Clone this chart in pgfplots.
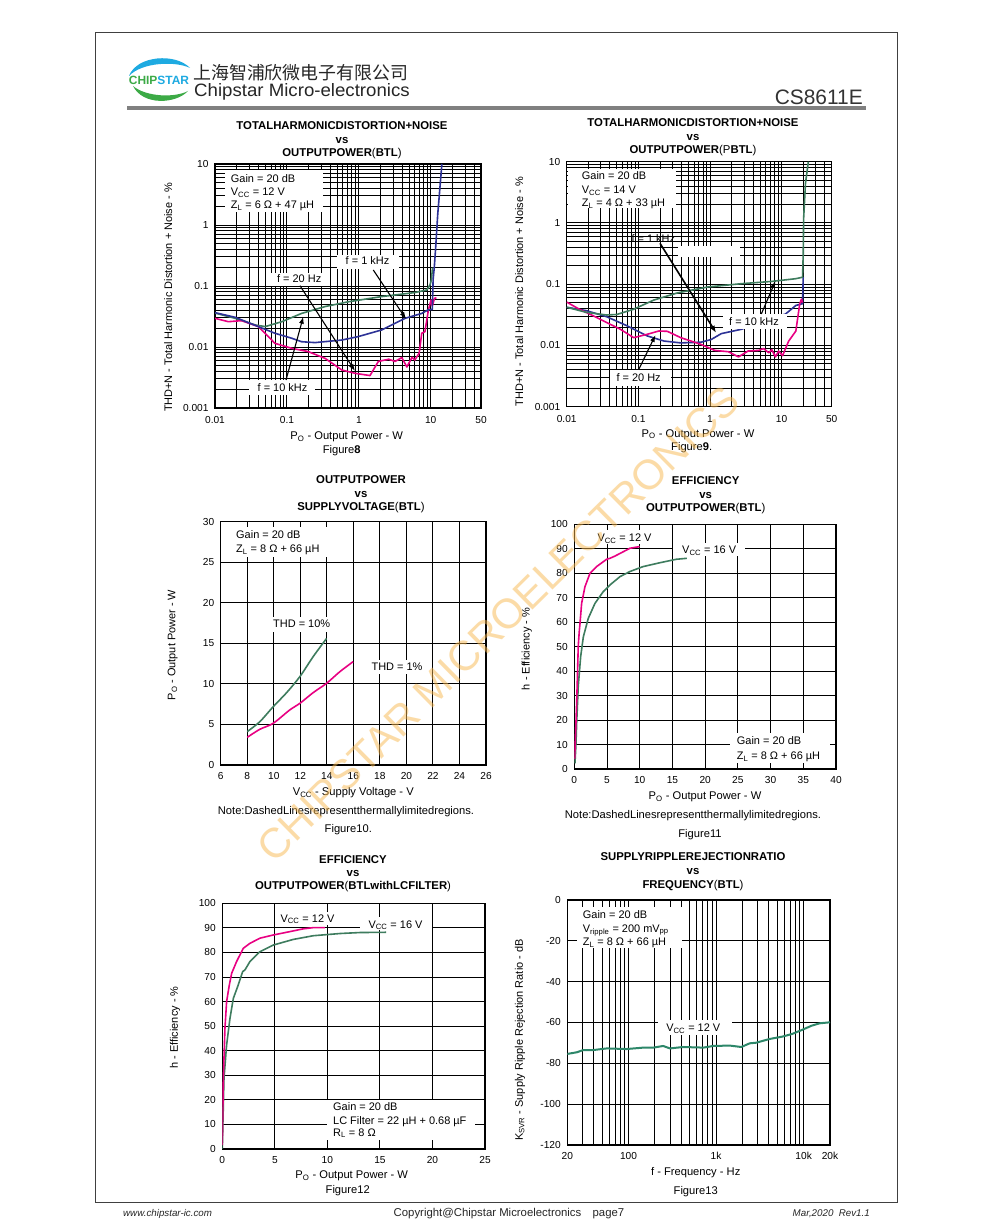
\documentclass[border=0pt]{standalone}
\usepackage{pgfplots}
\pgfplotsset{compat=1.18}
\usepackage{fontspec}
\setmainfont{Liberation Sans}
\newfontfamily\cjk{Noto Sans CJK SC}
\usetikzlibrary{arrows.meta}
\definecolor{cgreen}{RGB}{62,124,94}
\definecolor{cpink}{RGB}{232,0,130}
\definecolor{cblue}{RGB}{45,50,150}
\definecolor{cteal}{RGB}{45,135,105}
\definecolor{logoblue}{RGB}{30,170,225}
\definecolor{logogreen}{RGB}{60,170,70}
\definecolor{wmark}{RGB}{248,185,80}
\newcommand\fs[1]{\fontsize{#1}{#1}\selectfont}
\pgfkeys{/pgf/number format/assume math mode=true}
\pgfplotsset{
 ds/.style={scale only axis, grid=both,
   major grid style={black,line width=0.9bp},
   minor grid style={black,line width=0.8bp},
   major tick length=0pt, minor tick length=0pt,
   axis line style={black,line width=1.1bp},
   tick label style={font=\fs{10.2}},
   xticklabel style={yshift=-4bp},
   yticklabel style={xshift=-3bp},
   every axis plot/.append style={line width=1.6bp, line join=round},
 },
}
\newcommand\ttl[3]{\node[anchor=base, font=\bfseries\fs{11.4}] at (#1,{#2+4.1}) {#3};}
\newcommand\lab[3]{\node[anchor=base, font=\fs{11.2}] at (#1,{#2+4}) {#3};}
\newcommand\ann[3]{\node[anchor=base west, font=\fs{11}, inner sep=0pt] at (#1,{#2+4}) {#3};}
\newcommand\cann[3]{\node[anchor=base, font=\fs{11}, inner sep=0pt] at (#1,{#2+4}) {#3};}
\newcommand\wbox[4]{\fill[white] (#1,#2) rectangle (#3,#4);}
\newcommand\ylab[3]{\node[rotate=90, font=\fs{11}] at (#1,#2) {#3};}
\begin{document}
\begin{tikzpicture}[x=1bp,y=1bp]
\fill[white] (0,0) rectangle (991,1232);
\useasboundingbox (0,0) rectangle (991,1232);

% ---------- Figure 8
\begin{axis}[ds, xmode=log, ymode=log, at={(215bp,824bp)}, anchor=south west, width=266bp, height=244bp,
   xmin=0.01, xmax=50, ymin=0.001, ymax=10,
   xtick={0.01,0.1,1,10,50}, xticklabels={0.01,0.1,1,10,50},
   ytick={0.001,0.01,0.1,1,10}, yticklabels={0.001,0.01,0.1,1,10},
   minor xtick={0.02,0.03,0.04,0.05,0.06,0.07,0.08,0.09,0.2,0.3,0.4,0.5,0.6,0.7,0.8,0.9,2,3,4,5,6,7,8,9,20,30,40},
   minor ytick={0.002,0.003,0.004,0.005,0.006,0.007,0.008,0.009,0.02,0.03,0.04,0.05,0.06,0.07,0.08,0.09,0.2,0.3,0.4,0.5,0.6,0.7,0.8,0.9,2,3,4,5,6,7,8,9},
   xticklabel style={yshift=-1bp}]
\addplot[cgreen] coordinates {(0.01,0.036)(0.019,0.0295)(0.036,0.023)(0.05,0.0216)(0.085,0.026)(0.16,0.0355)(0.34,0.046)(0.71,0.055)(2.07,0.067)(6.0,0.078)(8.8,0.086)(9.8,0.105)(10.2,0.126)(10.6,0.2)};
\addplot[cpink] coordinates {(0.01,0.0295)(0.0153,0.026)(0.0235,0.027)(0.04,0.0216)(0.0496,0.0168)(0.068,0.0115)(0.117,0.0095)(0.198,0.0084)(0.34,0.0065)(0.58,0.0042)(0.89,0.0037)(1.43,0.0034)(1.87,0.0058)(2.6,0.0063)(3.2,0.0058)(3.96,0.0067)(4.66,0.0047)(5.5,0.0068)(6.0,0.0061)(6.9,0.0079)(7.5,0.0168)(8.3,0.0178)(9.3,0.041)(10.1,0.059)(10.5,0.047)(11.3,0.063)(12,0.064)};
\addplot[cblue] coordinates {(0.01,0.0366)(0.019,0.0307)(0.04,0.0216)(0.068,0.0168)(0.117,0.0139)(0.16,0.0122)(0.246,0.0118)(0.58,0.013)(0.98,0.0148)(2.07,0.019)(4.4,0.0295)(7.5,0.0355)(9.3,0.041)(10.5,0.041)(10.8,0.13)(11.2,0.2)(11.7,0.42)(12.5,1.48)(13.4,4.0)(14.3,10)};
\end{axis}

% ---------- Figure 9
\begin{axis}[ds, xmode=log, ymode=log, at={(566.7bp,825.3bp)}, anchor=south west, width=265bp, height=245bp,
   xmin=0.01, xmax=50, ymin=0.001, ymax=10,
   xtick={0.01,0.1,1,10,50}, xticklabels={0.01,0.1,1,10,50},
   ytick={0.001,0.01,0.1,1,10}, yticklabels={0.001,0.01,0.1,1,10},
   minor xtick={0.02,0.03,0.04,0.05,0.06,0.07,0.08,0.09,0.2,0.3,0.4,0.5,0.6,0.7,0.8,0.9,2,3,4,5,6,7,8,9,20,30,40},
   minor ytick={0.002,0.003,0.004,0.005,0.006,0.007,0.008,0.009,0.02,0.03,0.04,0.05,0.06,0.07,0.08,0.09,0.2,0.3,0.4,0.5,0.6,0.7,0.8,0.9,2,3,4,5,6,7,8,9},
   xticklabel style={yshift=-1bp}]
\addplot[cblue] coordinates {(0.01,0.042)(0.0188,0.037)(0.036,0.0295)(0.069,0.021)(0.133,0.0143)(0.228,0.0118)(0.39,0.011)(0.75,0.0113)(1.04,0.0125)(1.44,0.0156)(2.77,0.0184)(6.6,0.027)(11.3,0.0325)(15.8,0.045)(19.6,0.048)(20,0.13)};
\addplot[cpink] coordinates {(0.01,0.051)(0.015,0.039)(0.0233,0.0306)(0.036,0.0237)(0.056,0.0184)(0.086,0.0134)(0.133,0.0152)(0.193,0.0172)(0.254,0.017)(0.39,0.0134)(0.75,0.0104)(1.16,0.0083)(1.8,0.0079)(2.5,0.0065)(3.4,0.0081)(4.8,0.0083)(5.6,0.0089)(6.6,0.0076)(7.3,0.0085)(8.2,0.0065)(9.1,0.0081)(10.3,0.0068)(12.5,0.0117)(15.8,0.0172)(17.9,0.048)(18.9,0.057)(19.5,0.05)};
\addplot[cgreen] coordinates {(0.01,0.042)(0.0188,0.0347)(0.036,0.0314)(0.05,0.032)(0.086,0.039)(0.164,0.055)(0.35,0.072)(0.93,0.09)(2.77,0.102)(7.3,0.111)(15.8,0.123)(19.6,0.13)(20,0.3)(20.3,1.2)(21.5,4.4)(23.6,10)};
\end{axis}

% ---------- Figure 10
\begin{axis}[ds, at={(220.7bp,467bp)}, anchor=south west, width=265.3bp, height=243.3bp,
  xmin=6, xmax=26, ymin=0, ymax=30, xtick={6,8,...,26}, ytick={0,5,...,30}, grid=major]
\addplot[cgreen, smooth] coordinates {(8,4.11)(8.95,5.34)(9.96,7.19)(10.97,8.92)(11.97,10.9)(12.97,13.36)(13.98,15.6)};
\addplot[cpink, smooth] coordinates {(8,3.41)(8.95,4.4)(9.96,5.14)(11.2,6.78)(11.97,7.6)(12.97,8.92)(13.98,10.07)(14.98,11.5)(15.98,12.74)};
\end{axis}

% ---------- Figure 11
\begin{axis}[ds, at={(574.3bp,463bp)}, anchor=south west, width=261.7bp, height=244.7bp,
  xmin=0, xmax=40, ymin=0, ymax=100, xtick={0,5,...,40}, ytick={0,10,...,100}, grid=major]
\addplot[cgreen] coordinates {(0.1,2.3)(0.25,10)(0.36,18.7)(0.6,33.7)(0.97,45.9)(1.38,54)(2.14,61.6)(3.16,67.7)(4.43,72.5)(5.45,75.2)(6.98,78.6)(8.5,80.7)(10.5,82.7)(13.1,84.3)(15.6,85.7)(17.2,86.1)};
\addplot[cpink] coordinates {(0.05,4)(0.2,15)(0.36,27)(0.5,40)(0.6,50)(0.75,56)(0.87,59.5)(1.12,67.7)(1.63,74.5)(2.4,80)(3.4,82.7)(4.94,85.7)(5.45,86.1)(6.2,87)(7.5,88.8)(8.5,90.2)(10,90.9)};
\end{axis}

% ---------- Figure 12
\begin{axis}[ds, at={(222.3bp,83bp)}, anchor=south west, width=262.7bp, height=245.7bp,
  xmin=0, xmax=25, ymin=0, ymax=100, xtick={0,5,...,25}, ytick={0,10,...,100}, grid=major]
\addplot[cgreen] coordinates {(0,0)(0.16,28.8)(0.41,42.3)(0.73,53.2)(1.05,61.3)(1.52,66.8)(1.94,72.2)(2.16,72.9)(2.63,76.3)(3.58,80.3)(4.85,83)(6.76,85.3)(8.66,86.8)(11.2,87.7)(13.1,88.1)(15.6,88.2)};
\addplot[cpink] coordinates {(0,1.6)(0.1,28.8)(0.25,49)(0.41,60)(0.67,66.8)(0.89,71.5)(1.36,76.3)(2.0,81.7)(2.63,83.7)(3.58,85.8)(4.85,87.1)(6.12,88.2)(7.7,89.6)(8.66,90.1)(9.77,90.1)};
\end{axis}

% ---------- Figure 13
\begin{axis}[ds, xmode=log, at={(567.3bp,87bp)}, anchor=south west, width=262.7bp, height=245bp,
  xmin=20, xmax=20000, ymin=-120, ymax=0,
  xtick={20,100,1000,10000,20000}, xticklabels={20,100,1k,10k,20k},
  minor xtick={30,40,50,60,70,80,90,200,300,400,500,600,700,800,900,2000,3000,4000,5000,6000,7000,8000,9000},
  ytick={-120,-100,...,0}]
\addplot[cteal, line width=2bp] coordinates {(20,-75.4)(25.6,-74.6)(30.5,-73.5)(39.6,-73.5)(56.3,-72.7)(95,-73)(148,-72.3)(192,-72.3)(249,-71.5)(297,-72.7)(420,-72)(597,-72.2)(714,-72.3)(928,-71.5)(1430,-71.3)(1940,-72)(2420,-70.2)(2870,-69.9)(4060,-68.1)(5730,-66.9)(7400,-65.6)(9500,-63.7)(12280,-61.6)(15200,-60.4)(20000,-59.9)};
\end{axis}

\begin{scope}[shift={(0,1232)}, yscale=-1]
% page frame and header
\draw[black!75, line width=1bp] (95,33) rectangle (897,1203);
\fill[black!50] (127,106.5) rectangle (866,110.5);
\fill[logoblue] (129,76) .. controls (137,55) and (176,53) .. (190,68) .. controls (176,61) and (142,62) .. cycle;
\fill[logogreen] (133,86) .. controls (143,106) and (176,104) .. (188,91) .. controls (175,98) and (146,97) .. cycle;
\node[anchor=base, font=\bfseries\fs{12}, inner sep=0pt] at (159,84.5) {\textcolor{logogreen}{CHIP}\textcolor{logoblue}{STAR}};
\node[anchor=base west, font=\cjk\fs{18}, text=black!85, inner sep=0pt] at (193,80) {上海智浦欣微电子有限公司};
\node[anchor=base west, font=\fs{18}, text=black!85, inner sep=0pt, xscale=1.04] at (194,97) {Chipstar Micro-electronics};
\node[anchor=base east, font=\fs{21}, text=black!80, inner sep=0pt] at (863,104.5) {CS8611E};

% footer
\node[anchor=base west, font=\itshape\fs{9.8}, text=black!85, inner sep=0pt] at (123,1216.5) {www.chipstar-ic.com};
\node[anchor=base, font=\fs{11.4}, text=black!85, inner sep=0pt] at (509,1216.5) {Copyright@Chipstar Microelectronics\quad page7};
\node[anchor=base east, font=\itshape\fs{9.8}, text=black!85, inner sep=0pt] at (870,1216.5) {Mar,2020\ \ Rev1.1};

% titles
\ttl{342}{125}{TOTALHARMONICDISTORTION+NOISE}
\ttl{342}{139}{vs}
\ttl{342}{152}{OUTPUTPOWER{\mdseries(}BTL{\mdseries)}}
\ttl{693}{122.7}{TOTALHARMONICDISTORTION+NOISE}
\ttl{693}{136}{vs}
\ttl{693}{149.3}{OUTPUTPOWER{\mdseries(P}BTL{\mdseries)}}
\ttl{361}{479.3}{OUTPUTPOWER}
\ttl{361}{493.3}{vs}
\ttl{361}{506}{SUPPLYVOLTAGE{\mdseries(}BTL{\mdseries)}}
\ttl{705.7}{480}{EFFICIENCY}
\ttl{705.7}{494}{vs}
\ttl{705.7}{507.3}{OUTPUTPOWER{\mdseries(}BTL{\mdseries)}}
\ttl{353}{859}{EFFICIENCY}
\ttl{353}{872.3}{vs}
\ttl{353}{885.7}{OUTPUTPOWER{\mdseries(}BTLwithLCFILTER{\mdseries)}}
\ttl{693}{856.7}{SUPPLYRIPPLEREJECTIONRATIO}
\ttl{693}{870}{vs}
\ttl{693}{884}{FREQUENCY{\mdseries(}BTL{\mdseries)}}

% x labels, notes, figure captions
\lab{346.7}{436}{P\textsubscript{O} - Output Power - W}
\lab{341.7}{450}{Figure\textbf{8}}
\lab{698}{433.3}{P\textsubscript{O} - Output Power - W}
\lab{691.7}{446.7}{Figure\textbf{9}.}
\lab{353.3}{791.7}{V\textsubscript{CC} - Supply Voltage - V}
\lab{346}{810.7}{Note:DashedLinesrepresentthermallylimitedregions.}
\lab{348.3}{829}{Figure10.}
\lab{705}{796}{P\textsubscript{O} - Output Power - W}
\lab{693}{815}{Note:DashedLinesrepresentthermallylimitedregions.}
\lab{700}{834}{Figure11}
\lab{351.7}{1175}{P\textsubscript{O} - Output Power - W}
\lab{347.7}{1190}{Figure12}
\lab{695.7}{1171.7}{f - Frequency - Hz}
\lab{695.7}{1190.7}{Figure13}

% y labels
\ylab{168.3}{297.5}{THD+N - Total Harmonic Distortion + Noise - \%}
\ylab{519.3}{291.7}{THD+N - Total Harmonic Distortion + Noise - \%}
\ylab{172.7}{645}{P\textsubscript{O} - Output Power - W}
\ylab{526.7}{649}{h - Efficiency - \%}
\ylab{175}{1027.5}{h - Efficiency - \%}
\ylab{520}{1040}{K\textsubscript{SVR} - Supply Ripple Rejection Ratio - dB}

% ---- Fig 8 annotations
\wbox{225}{170}{323}{212}
\ann{230.7}{178.3}{Gain = 20 dB}
\ann{230.7}{191.7}{V\textsubscript{CC} = 12 V}
\ann{230.7}{205}{Z\textsubscript{L} = 6 Ω + 47 µH}
\wbox{336.7}{255}{399.3}{269}
\cann{367.5}{260.7}{f = 1 kHz}
\wbox{268}{273}{330}{285.7}
\cann{299.2}{279}{f = 20 Hz}
\wbox{249}{380}{315}{395}
\cann{282.5}{387.7}{f = 10 kHz}
\draw[line width=1.1bp, -{Latex[length=7bp,width=5bp]}] (373.3,270) -- (406,319);
\draw[line width=1.1bp, -{Latex[length=7bp,width=5bp]}] (300,285.7) -- (355,371);
\draw[line width=1.1bp, -{Latex[length=7bp,width=5bp]}] (286,380) -- (303.3,316.7);

% ---- Fig 9 annotations
\wbox{568}{169}{676}{208}
\ann{581.7}{176}{Gain = 20 dB}
\ann{581.7}{190}{V\textsubscript{CC} = 14 V}
\ann{581.7}{202.7}{Z\textsubscript{L} = 4 Ω + 33 µH}
\wbox{678}{246}{740}{256.7}
\cann{653.3}{238.3}{f = 1 kHz}
\wbox{723}{314}{787}{329}
\cann{754}{321.8}{f = 10 kHz}
\wbox{610}{370}{671}{386}
\cann{638.6}{378}{f = 20 Hz}
\draw[line width=1.6bp, -{Latex[length=7bp,width=5.5bp]}] (660,243.3) -- (716,332.7);
\draw[line width=1.1bp, -{Latex[length=7bp,width=5bp]}] (761.3,314) -- (775.5,281);
\draw[line width=1.1bp, -{Latex[length=7bp,width=5bp]}] (638.6,369.8) -- (655.5,335);

% ---- Fig 10 annotations
\wbox{231.7}{526.7}{328}{557.3}
\ann{236}{535}{Gain = 20 dB}
\ann{236}{549}{Z\textsubscript{L} = 8 Ω + 66 µH}
\wbox{270}{616.7}{333.3}{631.7}
\cann{301.7}{624}{THD = 10\%}
\wbox{368.3}{660}{426.7}{674}
\cann{397}{666.7}{THD = 1\%}

% ---- Fig 11 annotations
\wbox{593.3}{530}{655}{544}
\cann{624.5}{537.7}{V\textsubscript{CC} = 12 V}
\wbox{673.3}{543}{745}{556}
\cann{709.2}{550}{V\textsubscript{CC} = 16 V}
\wbox{730}{733}{830}{763}
\ann{736.7}{740.7}{Gain = 20 dB}
\ann{736.7}{755.7}{Z\textsubscript{L} = 8 Ω + 66 µH}

% ---- Fig 12 annotations
\wbox{276.7}{911.7}{338.3}{925}
\cann{307.5}{918.3}{V\textsubscript{CC} = 12 V}
\wbox{360}{917}{431.7}{930}
\cann{395.5}{924.3}{V\textsubscript{CC} = 16 V}
\wbox{326.7}{1100}{475}{1140}
\ann{333}{1107}{Gain = 20 dB}
\ann{333}{1120.7}{LC Filter = 22 µH + 0.68 µF}
\ann{333}{1132.3}{R\textsubscript{L} = 8 Ω}

% ---- Fig 13 annotations
\wbox{576.7}{906.7}{681.7}{948.3}
\ann{582.7}{915}{Gain = 20 dB}
\ann{582.7}{928.3}{V\textsubscript{ripple} = 200 mV\textsubscript{pp}}
\ann{582.7}{941.7}{Z\textsubscript{L} = 8 Ω + 66 µH}
\wbox{658}{1020}{732}{1035}
\cann{693.3}{1027.7}{V\textsubscript{CC} = 12 V}

% watermark
\node[rotate=44.6, font=\fs{42}, text=wmark, text opacity=0.5, inner sep=0pt] at (498,624) {CHIPSTAR MICROELECTRONICS};
\end{scope}
\end{tikzpicture}
\end{document}
